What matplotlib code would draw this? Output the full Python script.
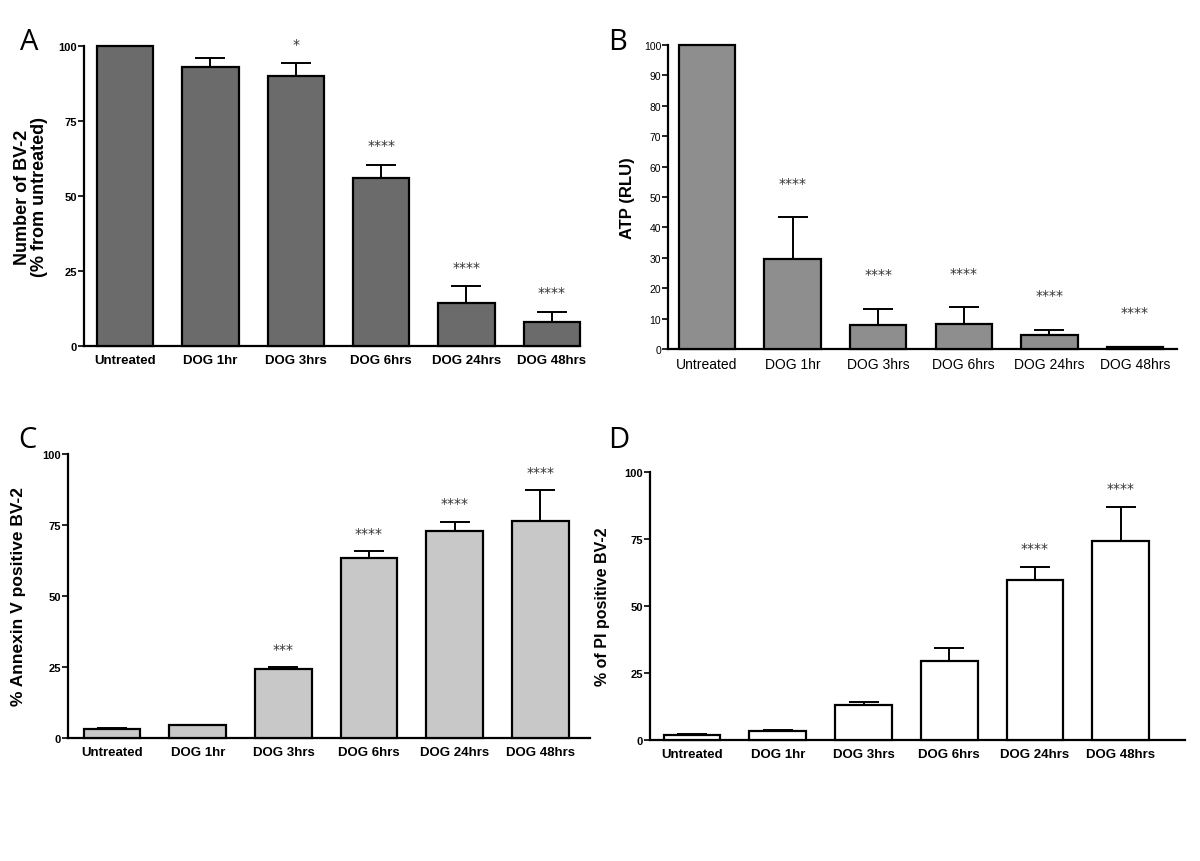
import numpy as np
import matplotlib
matplotlib.use("Agg")
import matplotlib.pyplot as plt

# categories shared by all panels
groups = ['Untreated', 'DOG 1hr', 'DOG 3hrs', 'DOG 6hrs', 'DOG 24hrs', 'DOG 48hrs']

# panel A - number of BV-2 (% from untreated)
a_mean = [100, 93, 90, 56, 14.5, 8]
a_err = [0, 3, 4.3, 4.5, 5.5, 3.5]
a_sig = ['', '', '*', '****', '****', '****']

# panel B - ATP (RLU)
b_mean = [100, 29.5, 8, 8.3, 4.5, 0.5]
b_err = [0, 13.8, 5.3, 5.4, 1.9, 0.2]
b_sig = ['', '****', '****', '****', '****', '****']

# panel C - % Annexin V positive
c_mean = [3, 4.5, 24.2, 63.5, 73, 76.5]
c_err = [0.4, 0.1, 0.8, 2.3, 3.2, 10.8]
c_sig = ['', '', '***', '****', '****', '****']

# panel D - % PI positive
d_mean = [2, 3.2, 13.2, 29.5, 59.8, 74.3]
d_err = [0.3, 0.4, 1.0, 4.8, 4.9, 12.8]
d_sig = ['', '', '', '', '****', '****']

fig = plt.figure(figsize=(12, 8.62), dpi=100)

FONT = ['Liberation Sans', 'DejaVu Sans']


def panel(rect, xlim, mean, err, sig, color, ylabel, yticks, star_off,
          bold_ticks=True, tick_fs=8, x_fs=9.5, label_fs=12):
    ax = fig.add_axes(rect)
    x = np.arange(len(groups))
    ax.bar(x, mean, width=0.66, color=color, edgecolor='black',
           linewidth=1.6, clip_on=False, zorder=3)
    ax.errorbar(x, mean, yerr=[np.zeros(len(err)), err], fmt='none',
                ecolor='black', elinewidth=1.4, capsize=11, capthick=1.4,
                clip_on=False, zorder=2)
    for xi, m, e, s in zip(x, mean, err, sig):
        if s:
            ax.annotate(s, (xi, m + e), xytext=(0, star_off),
                        textcoords='offset points', ha='center', va='bottom',
                        fontsize=10, color='#333333', annotation_clip=False)
    ax.set_xlim(*xlim)
    ax.set_ylim(0, 100)
    ax.set_yticks(yticks)
    ax.set_xticks(x)
    ax.tick_params(axis='x', length=0, pad=6)
    ax.tick_params(axis='y', length=4, width=1.2, direction='out', pad=1)
    w = 'bold' if bold_ticks else 'normal'
    ax.set_xticklabels(groups, fontsize=x_fs, family=FONT, fontweight=w)
    for t in ax.get_yticklabels():
        t.set_fontsize(tick_fs)
        t.set_fontfamily(FONT)
        t.set_fontweight(w)
    ax.set_ylabel(ylabel, fontsize=label_fs, fontweight='bold', family=FONT,
                  linespacing=1.05)
    for side in ['top', 'right']:
        ax.spines[side].set_visible(False)
    for side in ['left', 'bottom']:
        ax.spines[side].set_linewidth(1.6)
    return ax


axA = panel([0.070, 0.5974, 0.4133, 0.348], (-0.48, 5.33), a_mean, a_err, a_sig,
            '#6b6b6b', 'Number of BV-2\n(% from untreated)', [0, 25, 50, 75, 100], 9,
            label_fs=13)
axB = panel([0.5567, 0.594, 0.424, 0.3527], (-0.456, 5.49), b_mean, b_err, b_sig,
            '#8e8e8e', 'ATP (RLU)', np.arange(0, 101, 10), 20,
            bold_ticks=False, tick_fs=7.5, x_fs=10, label_fs=12)
axC = panel([0.0567, 0.1427, 0.435, 0.3295], (-0.514, 5.58), c_mean, c_err, c_sig,
            '#c8c8c8', '% Annexin V positive BV-2', [0, 25, 50, 75, 100], 8,
            label_fs=12.5)
axD = panel([0.5417, 0.1404, 0.4458, 0.3109], (-0.49, 5.75), d_mean, d_err, d_sig,
            'white', '% of PI positive BV-2', [0, 25, 50, 75, 100], 8,
            label_fs=11.5)

axA.yaxis.set_label_coords(-0.072, 0.5)
axB.yaxis.set_label_coords(-0.065, 0.5)
axC.yaxis.set_label_coords(-0.08, 0.5)
axD.yaxis.set_label_coords(-0.075, 0.5)

# panel letters
for letter, px, py in [('A', 20, 50), ('B', 608, 50), ('C', 18, 448), ('D', 608, 448)]:
    fig.text(px / 1200, 1 - py / 862, letter, fontsize=21, family='Open Sans')

fig.savefig('out.png', dpi=100)
